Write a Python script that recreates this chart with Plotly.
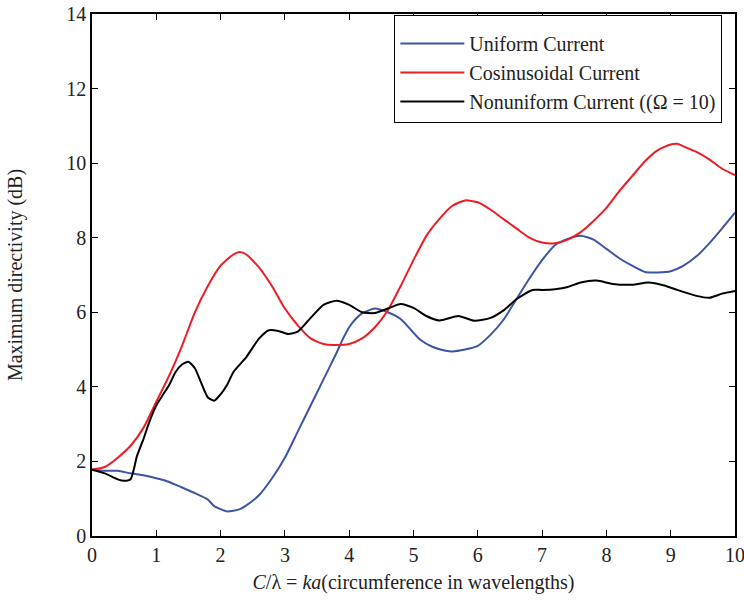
import plotly.graph_objects as go

x_uni = [0, 0.2, 0.4, 0.6, 0.8, 1.0, 1.2, 1.4, 1.6, 1.8, 1.9, 2.0, 2.1, 2.2, 2.3, 2.4, 2.6, 2.8, 3.0, 3.2, 3.4, 3.6, 3.8, 3.9, 4.0, 4.1, 4.2, 4.4, 4.6, 4.8, 5.0, 5.1, 5.3, 5.5, 5.6, 5.8, 6.0, 6.2, 6.4, 6.6, 6.8, 7.0, 7.2, 7.4, 7.6, 7.8, 8.0, 8.2, 8.4, 8.6, 8.8, 9.0, 9.2, 9.4, 9.6, 9.8, 10.0]
y_uni = [1.78, 1.75, 1.75, 1.68, 1.63, 1.55, 1.45, 1.3, 1.15, 0.98, 0.8, 0.72, 0.66, 0.68, 0.72, 0.82, 1.1, 1.55, 2.1, 2.8, 3.5, 4.2, 4.9, 5.28, 5.6, 5.82, 5.97, 6.1, 6.0, 5.82, 5.45, 5.27, 5.07, 4.97, 4.95, 5.0, 5.1, 5.4, 5.8, 6.35, 6.9, 7.4, 7.8, 7.97, 8.05, 7.95, 7.7, 7.45, 7.25, 7.08, 7.07, 7.1, 7.25, 7.5, 7.85, 8.25, 8.67]

x_cos = [0, 0.2, 0.4, 0.6, 0.8, 1.0, 1.2, 1.4, 1.6, 1.8, 2.0, 2.2, 2.3, 2.4, 2.6, 2.8, 3.0, 3.2, 3.4, 3.6, 3.8, 4.0, 4.2, 4.4, 4.6, 4.8, 5.0, 5.2, 5.4, 5.6, 5.8, 6.0, 6.2, 6.4, 6.6, 6.8, 7.0, 7.2, 7.4, 7.6, 7.8, 8.0, 8.2, 8.4, 8.6, 8.8, 9.0, 9.1, 9.2, 9.4, 9.6, 9.8, 10.0]
y_cos = [1.78, 1.85, 2.1, 2.42, 2.9, 3.6, 4.3, 5.1, 6.0, 6.7, 7.25, 7.55, 7.62, 7.55, 7.2, 6.7, 6.1, 5.65, 5.3, 5.15, 5.12, 5.15, 5.3, 5.6, 6.05, 6.7, 7.4, 8.05, 8.5, 8.85, 9.0, 8.95, 8.75, 8.5, 8.25, 8.0, 7.87, 7.85, 7.95, 8.15, 8.45, 8.8, 9.25, 9.65, 10.05, 10.35, 10.5, 10.52, 10.45, 10.3, 10.1, 9.85, 9.68]

x_non = [0, 0.2, 0.4, 0.5, 0.6, 0.7, 0.8, 0.9, 1.0, 1.2, 1.3, 1.4, 1.5, 1.6, 1.7, 1.8, 1.9, 2.0, 2.1, 2.2, 2.4, 2.6, 2.75, 2.9, 3.05, 3.2, 3.4, 3.6, 3.8, 4.0, 4.2, 4.4, 4.6, 4.8, 5.0, 5.2, 5.4, 5.7, 5.95, 6.2, 6.4, 6.6, 6.85, 7.0, 7.2, 7.4, 7.6, 7.85, 8.1, 8.4, 8.65, 8.9, 9.1, 9.4, 9.6, 9.8, 10.0]
y_non = [1.78, 1.68, 1.52, 1.48, 1.52, 2.15, 2.6, 3.1, 3.5, 4.05, 4.4, 4.6, 4.67, 4.5, 4.1, 3.72, 3.63, 3.8, 4.05, 4.4, 4.8, 5.3, 5.52, 5.5, 5.42, 5.48, 5.85, 6.2, 6.31, 6.2, 6.0, 5.98, 6.1, 6.22, 6.12, 5.9, 5.78, 5.9, 5.77, 5.85, 6.05, 6.35, 6.6, 6.6, 6.62, 6.68, 6.8, 6.85, 6.76, 6.74, 6.8, 6.72, 6.6, 6.44, 6.39, 6.5, 6.57]

names = ["Uniform Current", "Cosinusoidal Current", "Nonuniform Current ((\u03a9 = 10)"]
colors = ["#3B54A5", "#ED1C24", "#000000"]

fig = go.Figure()
for xs, ys, nm, c in zip([x_uni, x_cos, x_non], [y_uni, y_cos, y_non], names, colors):
    fig.add_trace(go.Scatter(x=xs, y=ys, mode="lines", name=nm,
                             line=dict(color=c, width=2, shape="spline", smoothing=0.6)))

font = "Liberation Serif, Times New Roman, serif"
axis_common = dict(showgrid=False, zeroline=False, showline=True, linecolor="black",
                   linewidth=1.5, mirror="ticks", ticks="inside", ticklen=6,
                   tickcolor="black", tickwidth=1.2, automargin=False,
                   ticklabeloverflow="allow",
                   tickfont=dict(family=font, size=20, color="#222"))
fig.update_layout(
    width=744, height=601,
    margin=dict(l=92, r=9, t=14, b=65),
    paper_bgcolor="white", plot_bgcolor="white",
    font=dict(family=font, color="#222"),
    xaxis=dict(range=[0, 10], dtick=1, **axis_common,
               title=dict(text="<i>C</i>/\u03bb = <i>ka</i>(circumference in wavelengths)",
                          font=dict(family=font, size=20), standoff=10)),
    yaxis=dict(range=[0, 14], dtick=2, **axis_common,
               title=dict(text="Maximum directivity (dB)", font=dict(family=font, size=20),
                          standoff=38)),
    legend=dict(x=0.98, y=0.998, xanchor="right", yanchor="top",
                bordercolor="black", borderwidth=1.2, bgcolor="white",
                font=dict(family=font, size=20, color="#222"),
                title=dict(text=" ", font=dict(size=6)),
                itemwidth=64, tracegroupgap=0),
    showlegend=True,
)
fig.write_html("out.html", config={"displayModeBar": False},
               post_script="document.body.style.margin='0px';document.body.style.overflow='hidden';")
